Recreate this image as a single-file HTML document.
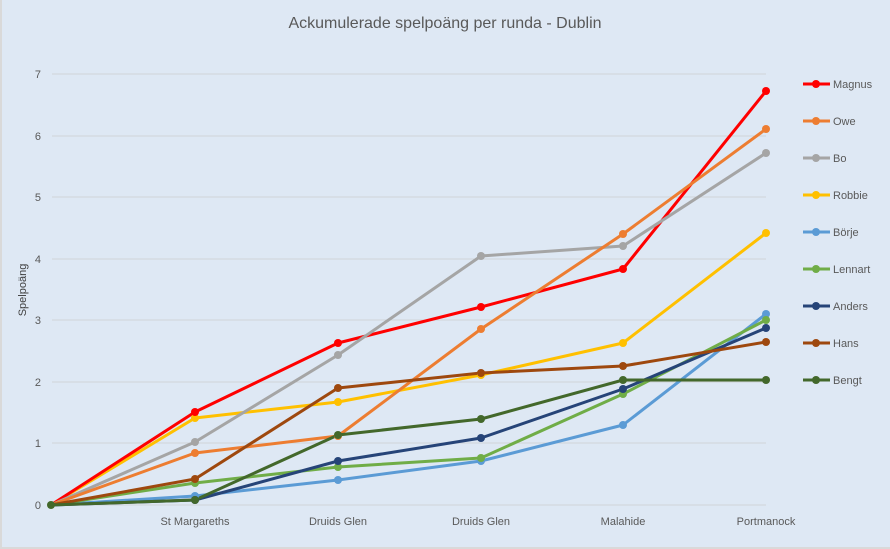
<!DOCTYPE html>
<html><head><meta charset="utf-8"><style>
body{margin:0;background:#fff}
svg{display:block;font-family:"Liberation Sans",sans-serif}
</style></head><body>
<svg width="890" height="549" viewBox="0 0 890 549">
<rect x="0" y="0" width="890" height="549" fill="#d9d9d9"/>
<rect x="2" y="0" width="888" height="547" fill="#dee8f4"/>
<text x="445" y="28" text-anchor="middle" font-size="16" fill="#595959">Ackumulerade spelpoäng per runda - Dublin</text>
<g stroke="#d0d4d9" stroke-width="1">
<line x1="52" x2="766" y1="74" y2="74"/><line x1="52" x2="766" y1="136" y2="136"/>
<line x1="52" x2="766" y1="197" y2="197"/><line x1="52" x2="766" y1="259" y2="259"/>
<line x1="52" x2="766" y1="320" y2="320"/><line x1="52" x2="766" y1="382" y2="382"/>
<line x1="52" x2="766" y1="443" y2="443"/><line x1="52" x2="766" y1="505" y2="505"/>
</g>
<g font-size="11" fill="#595959" text-anchor="end">
<text x="41" y="78">7</text><text x="41" y="140">6</text><text x="41" y="201">5</text>
<text x="41" y="263">4</text><text x="41" y="324">3</text><text x="41" y="386">2</text>
<text x="41" y="447">1</text><text x="41" y="509">0</text>
</g>
<g font-size="11" fill="#595959" text-anchor="middle">
<text x="195" y="525">St Margareths</text><text x="338" y="525">Druids Glen</text>
<text x="481" y="525">Druids Glen</text><text x="623" y="525">Malahide</text>
<text x="766" y="525">Portmanock</text>
</g>
<text transform="translate(26,290) rotate(-90)" font-size="11" fill="#404040" text-anchor="middle">Spelpoäng</text>
<g fill="none" stroke-width="3" stroke-linejoin="round">
<polyline stroke="#ffc000" points="51,505 195,418 338,402 481,375 623,343 766,233"/>
<polyline stroke="#ff0000" points="51,505 195,412 338,343 481,307 623,269 766,91"/>
<polyline stroke="#a5a5a5" points="51,505 195,442 338,355 481,256 623,246 766,153"/>
<polyline stroke="#ed7d31" points="51,505 195,453 338,436 481,329 623,234 766,129"/>
<polyline stroke="#5b9bd5" points="51,505 195,496 338,480 481,461 623,425 766,314"/>
<polyline stroke="#70ad47" points="51,505 195,483 338,467 481,458 623,394 766,320"/>
<polyline stroke="#264478" points="51,505 195,500 338,461 481,438 623,389 766,328"/>
<polyline stroke="#9e480e" points="51,505 195,479 338,388 481,373 623,366 766,342"/>
<polyline stroke="#43682b" points="51,505 195,500 338,435 481,419 623,380 766,380"/>
</g>
<g id="m">
<g fill="#ffc000"><circle cx="195" cy="418" r="4"/><circle cx="338" cy="402" r="4"/><circle cx="481" cy="375" r="4"/><circle cx="623" cy="343" r="4"/><circle cx="766" cy="233" r="4"/></g>
<g fill="#ff0000"><circle cx="195" cy="412" r="4"/><circle cx="338" cy="343" r="4"/><circle cx="481" cy="307" r="4"/><circle cx="623" cy="269" r="4"/><circle cx="766" cy="91" r="4"/></g>
<g fill="#a5a5a5"><circle cx="195" cy="442" r="4"/><circle cx="338" cy="355" r="4"/><circle cx="481" cy="256" r="4"/><circle cx="623" cy="246" r="4"/><circle cx="766" cy="153" r="4"/></g>
<g fill="#ed7d31"><circle cx="195" cy="453" r="4"/><circle cx="338" cy="436" r="4"/><circle cx="481" cy="329" r="4"/><circle cx="623" cy="234" r="4"/><circle cx="766" cy="129" r="4"/></g>
<g fill="#5b9bd5"><circle cx="195" cy="496" r="4"/><circle cx="338" cy="480" r="4"/><circle cx="481" cy="461" r="4"/><circle cx="623" cy="425" r="4"/><circle cx="766" cy="314" r="4"/></g>
<g fill="#70ad47"><circle cx="195" cy="483" r="4"/><circle cx="338" cy="467" r="4"/><circle cx="481" cy="458" r="4"/><circle cx="623" cy="394" r="4"/><circle cx="766" cy="320" r="4"/></g>
<g fill="#264478"><circle cx="195" cy="500" r="4"/><circle cx="338" cy="461" r="4"/><circle cx="481" cy="438" r="4"/><circle cx="623" cy="389" r="4"/><circle cx="766" cy="328" r="4"/></g>
<g fill="#9e480e"><circle cx="195" cy="479" r="4"/><circle cx="338" cy="388" r="4"/><circle cx="481" cy="373" r="4"/><circle cx="623" cy="366" r="4"/><circle cx="766" cy="342" r="4"/></g>
<g fill="#43682b"><circle cx="51" cy="505" r="4"/><circle cx="195" cy="500" r="4"/><circle cx="338" cy="435" r="4"/><circle cx="481" cy="419" r="4"/><circle cx="623" cy="380" r="4"/><circle cx="766" cy="380" r="4"/></g>
</g>
<g font-size="11" fill="#595959" stroke-width="3">
<line x1="803" x2="830" y1="84" y2="84" stroke="#ff0000"/><circle cx="816" cy="84" r="4" fill="#ff0000"/><text x="833" y="88">Magnus</text>
<line x1="803" x2="830" y1="121" y2="121" stroke="#ed7d31"/><circle cx="816" cy="121" r="4" fill="#ed7d31"/><text x="833" y="125">Owe</text>
<line x1="803" x2="830" y1="158" y2="158" stroke="#a5a5a5"/><circle cx="816" cy="158" r="4" fill="#a5a5a5"/><text x="833" y="162">Bo</text>
<line x1="803" x2="830" y1="195" y2="195" stroke="#ffc000"/><circle cx="816" cy="195" r="4" fill="#ffc000"/><text x="833" y="199">Robbie</text>
<line x1="803" x2="830" y1="232" y2="232" stroke="#5b9bd5"/><circle cx="816" cy="232" r="4" fill="#5b9bd5"/><text x="833" y="236">Börje</text>
<line x1="803" x2="830" y1="269" y2="269" stroke="#70ad47"/><circle cx="816" cy="269" r="4" fill="#70ad47"/><text x="833" y="273">Lennart</text>
<line x1="803" x2="830" y1="306" y2="306" stroke="#264478"/><circle cx="816" cy="306" r="4" fill="#264478"/><text x="833" y="310">Anders</text>
<line x1="803" x2="830" y1="343" y2="343" stroke="#9e480e"/><circle cx="816" cy="343" r="4" fill="#9e480e"/><text x="833" y="347">Hans</text>
<line x1="803" x2="830" y1="380" y2="380" stroke="#43682b"/><circle cx="816" cy="380" r="4" fill="#43682b"/><text x="833" y="384">Bengt</text>
</g>
</svg>
</body></html>
